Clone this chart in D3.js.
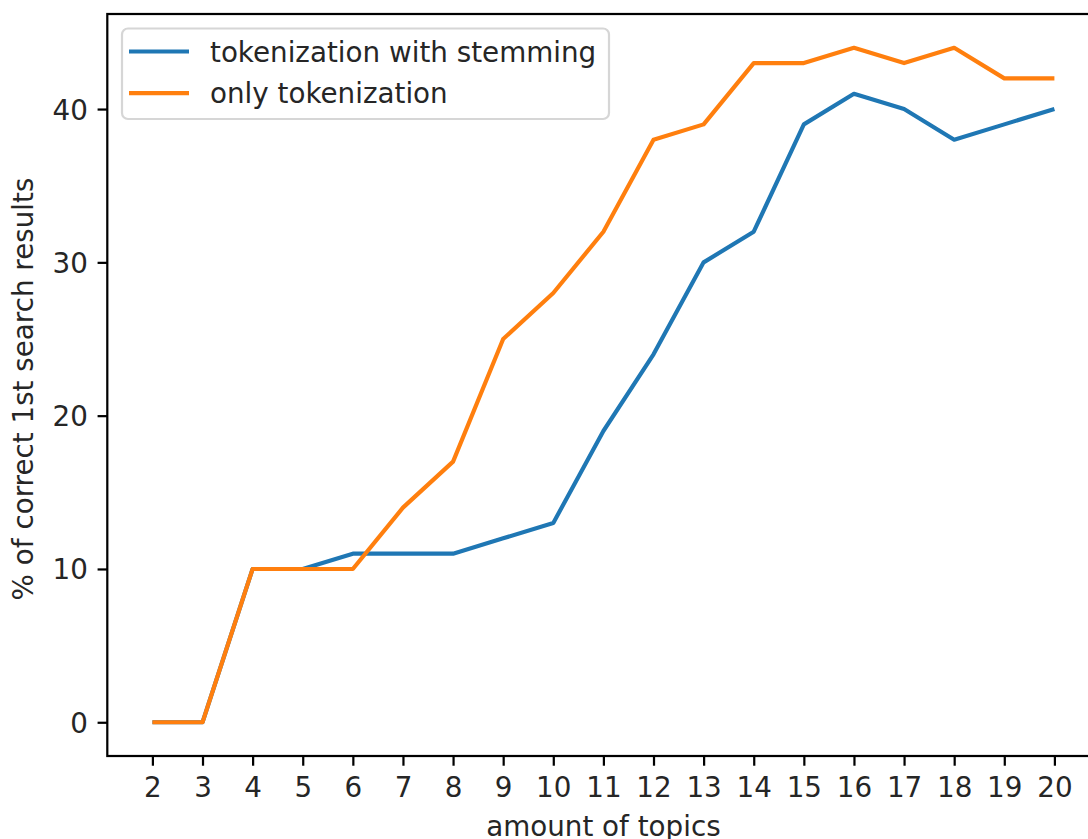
<!DOCTYPE html>
<html>
<head>
<meta charset="utf-8">
<script src="https://cdn.jsdelivr.net/npm/d3@7"></script>
<style>
  html, body { margin: 0; padding: 0; background: #ffffff; overflow: hidden; }
  svg { display: block; }
  text { font-family: "DejaVu Sans", sans-serif; fill: #262626; }
</style>
</head>
<body>
<svg id="chart" width="1088" height="839"></svg>
<script>
const topics = [2, 3, 4, 5, 6, 7, 8, 9, 10, 11, 12, 13, 14, 15, 16, 17, 18, 19, 20];
const withStemming = [0, 0, 10, 10, 11, 11, 11, 12, 13, 19, 24, 30, 32, 39, 41, 40, 38, 39, 40];
const onlyTokenization = [0, 0, 10, 10, 10, 14, 17, 25, 28, 32, 38, 39, 43, 43, 44, 43, 44, 42, 42];
const yTicks = [0, 10, 20, 30, 40];
const seriesNames = ["tokenization with stemming", "only tokenization"];
const seriesColors = ["#1f77b4", "#ff7f0e"];
const xLabel = "amount of topics";
const yLabel = "% of correct 1st search results";

(function () {
const series = [withStemming, onlyTokenization];

const svg = d3.select("#chart");
const pt = 200 / 72;
const fontPx = 10 * pt;

const pLeft = 107.3, pRight = 1099.5, pTop = 14, pBottom = 756;

const x = d3.scaleLinear().domain([2 - 0.9, 20 + 0.9]).range([pLeft, pRight]);
const y = d3.scaleLinear().domain([-2.2, 46.2]).range([pBottom, pTop]);

// lines
const line = d3.line().x((d, i) => x(topics[i])).y(d => y(d));
series.forEach((s, k) => {
  svg.append("path")
    .datum(s)
    .attr("d", line)
    .attr("fill", "none")
    .attr("stroke", seriesColors[k])
    .attr("stroke-width", 1.5 * pt)
    .attr("stroke-linejoin", "round")
    .attr("stroke-linecap", "butt");
});

// axes
const xAxis = d3.axisBottom(x).tickValues(topics).tickFormat(d3.format("d"))
  .tickSize(3.5 * pt).tickPadding(3.5 * pt);
const yAxis = d3.axisLeft(y).tickValues(yTicks).tickFormat(d3.format("d"))
  .tickSize(3.5 * pt).tickPadding(3.5 * pt);

const gx = svg.append("g").attr("transform", `translate(0,${pBottom})`).call(xAxis);
const gy = svg.append("g").attr("transform", `translate(${pLeft},0)`).call(yAxis);
[gx, gy].forEach(g => {
  g.select(".domain").remove();
  g.selectAll(".tick line").attr("stroke", "#000").attr("stroke-width", 0.8 * pt);
  g.selectAll(".tick text").attr("font-size", fontPx).attr("font-family", "DejaVu Sans").attr("fill", "#262626");
});
gx.selectAll(".tick text").attr("dy", "0.76em");
gy.selectAll(".tick text").attr("dy", "0.36em");

// spines
svg.append("rect")
  .attr("x", pLeft).attr("y", pTop)
  .attr("width", pRight - pLeft).attr("height", pBottom - pTop)
  .attr("fill", "none").attr("stroke", "#000").attr("stroke-width", 0.8 * pt);

// axis labels
svg.append("text")
  .attr("x", (pLeft + pRight) / 2).attr("y", 835.5)
  .attr("text-anchor", "middle").attr("font-size", fontPx)
  .text(xLabel);
svg.append("text")
  .attr("transform", `translate(33,${(pTop + pBottom) / 2 + 4}) rotate(-90)`)
  .attr("text-anchor", "middle").attr("font-size", fontPx)
  .text(yLabel);

// legend
const lg = svg.append("g");
lg.append("rect")
  .attr("x", 122).attr("y", 28.5)
  .attr("width", 487).attr("height", 90.5)
  .attr("rx", 6).attr("ry", 6)
  .attr("fill", "rgba(255,255,255,0.8)")
  .attr("stroke", "#d6d6d6").attr("stroke-width", 0.8 * pt);
seriesNames.forEach((name, k) => {
  const yy = 51.5 + k * 41.7;
  lg.append("line")
    .attr("x1", 129).attr("x2", 189).attr("y1", yy).attr("y2", yy)
    .attr("stroke", seriesColors[k]).attr("stroke-width", 1.5 * pt);
  lg.append("text")
    .attr("x", 210).attr("y", yy).attr("dy", "0.36em")
    .attr("font-size", fontPx)
    .text(name);
});
})();
</script>
</body>
</html>
